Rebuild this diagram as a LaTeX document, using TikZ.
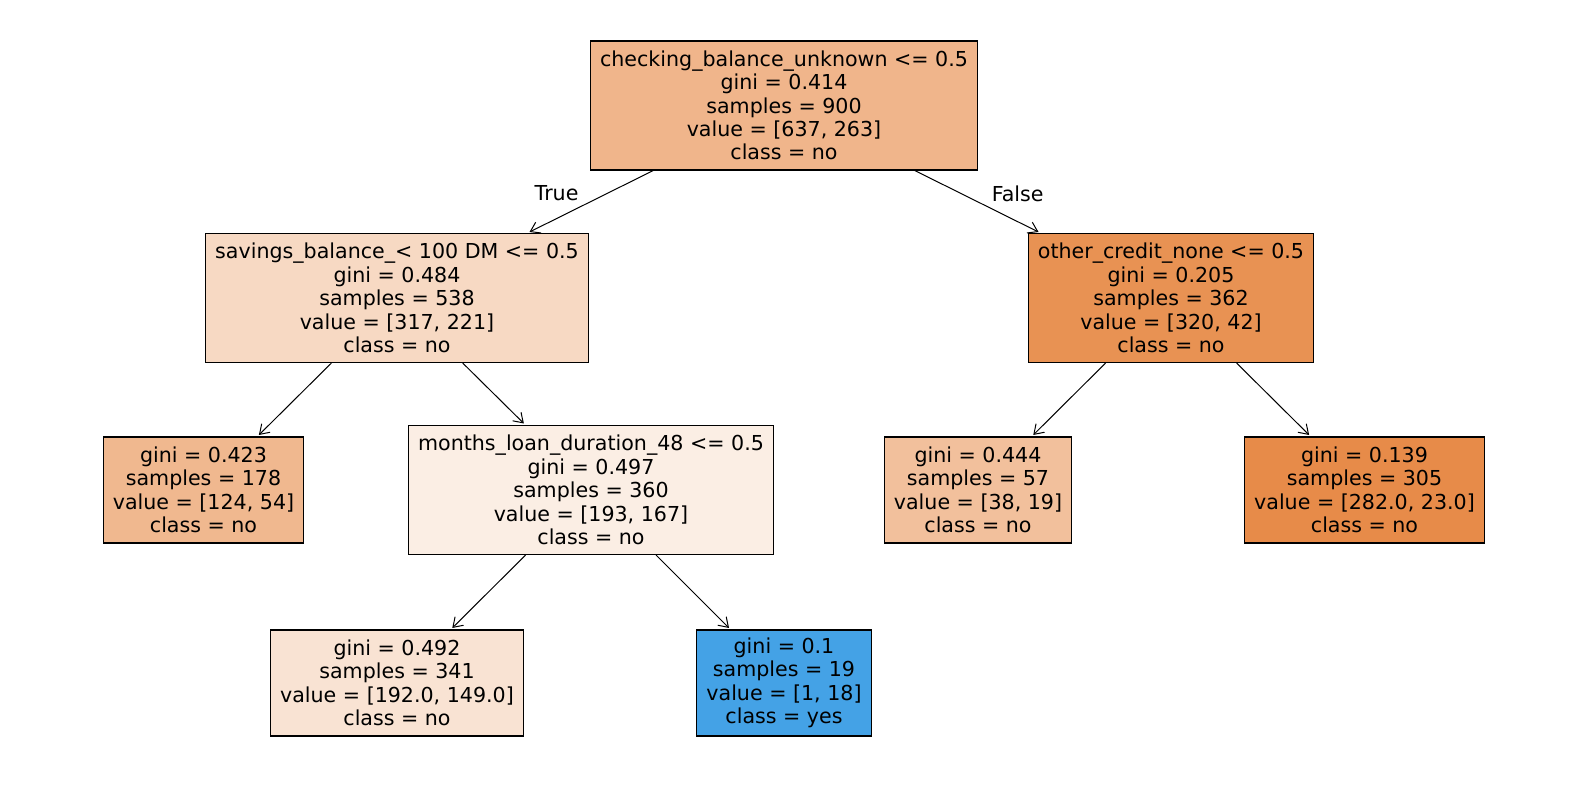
\documentclass[tikz,border=0pt]{standalone}
\usepackage{fontspec}
\setmainfont{DejaVu Sans}
\usepackage{xcolor}
\usepackage{tikz}
\usetikzlibrary{arrows.meta}

\definecolor{rootc}{RGB}{240,181,139}
\definecolor{savc}{RGB}{247,217,195}
\definecolor{othc}{RGB}{232,146,83}
\definecolor{leafa}{RGB}{240,184,143}
\definecolor{monc}{RGB}{251,238,228}
\definecolor{leafb}{RGB}{242,192,156}
\definecolor{leafc}{RGB}{231,139,73}
\definecolor{leafd}{RGB}{249,227,211}
\definecolor{leafe}{RGB}{68,162,230}

\begin{document}
\begin{tikzpicture}[x=0.5pt,y=-0.5pt,
      box/.style={draw,line width=0.6pt,align=center,inner xsep=4.8pt,inner ysep=0pt,
                  font=\fontsize{10.3}{11.7}\selectfont},
      split/.style={box,minimum height=64.5pt},
      leaf/.style={box,minimum height=53pt},
      arr/.style={-{Straight Barb[length=4.5pt,width=6pt]},line width=0.5pt,shorten >=1pt},
      lbl/.style={font=\fontsize{10.3}{11.7}\selectfont,inner sep=0pt},
  ]
  \useasboundingbox (0,0) rectangle (1570,790);

  % Split nodes
  \node[split,fill=rootc] (root) at (784,105.5)
    {checking\_balance\_unknown <= 0.5\\gini = 0.414\\samples = 900\\value = [637, 263]\\class = no};
  \node[split,fill=savc] (sav) at (397,298)
    {savings\_balance\_< 100 DM <= 0.5\\gini = 0.484\\samples = 538\\value = [317, 221]\\class = no};
  \node[split,fill=othc] (oth) at (1171,298)
    {other\_credit\_none <= 0.5\\gini = 0.205\\samples = 362\\value = [320, 42]\\class = no};
  \node[split,fill=monc] (mon) at (591,490)
    {months\_loan\_duration\_48 <= 0.5\\gini = 0.497\\samples = 360\\value = [193, 167]\\class = no};

  % Leaves
  \node[leaf,fill=leafa] (l1) at (203.5,490)
    {gini = 0.423\\samples = 178\\value = [124, 54]\\class = no};
  \node[leaf,fill=leafb] (l2) at (978,490)
    {gini = 0.444\\samples = 57\\value = [38, 19]\\class = no};
  \node[leaf,fill=leafc] (l3) at (1364.5,490)
    {gini = 0.139\\samples = 305\\value = [282.0, 23.0]\\class = no};
  \node[leaf,fill=leafd] (l4) at (397,683)
    {gini = 0.492\\samples = 341\\value = [192.0, 149.0]\\class = no};
  \node[leaf,fill=leafe] (l5) at (784,683)
    {gini = 0.1\\samples = 19\\value = [1, 18]\\class = yes};

  % Edges
  \draw[arr] (root) -- node[lbl,pos=0.77,above=8.7pt]{True} (sav);
  \draw[arr] (root) -- node[lbl,pos=0.82,above=9.5pt]{False} (oth);
  \draw[arr] (sav) -- (l1);
  \draw[arr] (sav) -- (mon);
  \draw[arr] (oth) -- (l2);
  \draw[arr] (oth) -- (l3);
  \draw[arr] (mon) -- (l4);
  \draw[arr] (mon) -- (l5);
\end{tikzpicture}
\end{document}
